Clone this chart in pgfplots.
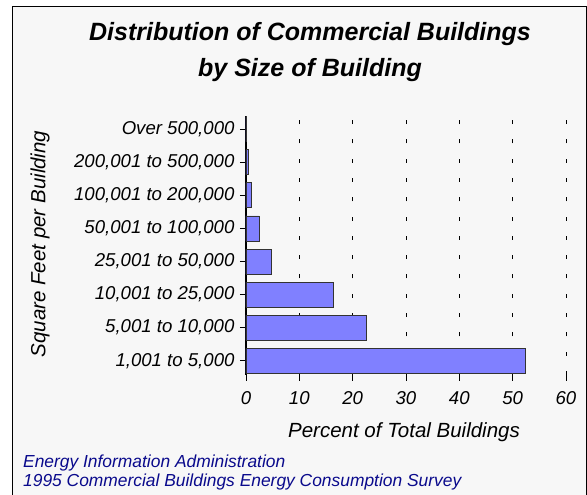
\documentclass[border=0pt]{standalone}
\usepackage{fontspec}
\setmainfont{Liberation Sans}
\usepackage{pgfplots}
\pgfplotsset{compat=1.18}

\definecolor{panel}{RGB}{247,247,247}
\definecolor{barblue}{RGB}{128,128,255}
\definecolor{navy}{RGB}{10,10,140}

\begin{document}
\begin{tikzpicture}
\useasboundingbox (0pt,0pt) rectangle (587pt,495pt);
\fill[white] (0pt,0pt) rectangle (587pt,495pt);
\fill[panel] (12.5pt,0pt) rectangle (586.5pt,488.5pt);
\draw[black, line width=1pt] (12.5pt,0pt) -- (12.5pt,488.5pt) -- (586.5pt,488.5pt) -- (586.5pt,0pt);

\begin{axis}[
  at={(246pt,120pt)}, anchor=south west,
  scale only axis, width=320pt, height=259pt,
  xbar, bar width=25pt,
  xmin=0, xmax=60, ymin=-0.43, ymax=7.40,
  xtick={0,10,...,60}, ytick={0,...,7},
  yticklabels={1{,}001 to 5{,}000, 5{,}001 to 10{,}000, 10{,}001 to 25{,}000,
    25{,}001 to 50{,}000, 50{,}001 to 100{,}000, 100{,}001 to 200{,}000,
    200{,}001 to 500{,}000, Over 500{,}000},
  axis lines*=left,
  x axis line style={draw=none},
  y axis line style={line width=1.2pt, black},
  tick align=outside, major tick length=6pt,
  tick style={black, line width=0.8pt},
  xmajorgrids,
  grid style={black, line width=0.9pt, dash pattern=on 4pt off 15.3pt},
  ticklabel style={font=\fontsize{18.6}{22}\selectfont\itshape},
  xticklabel shift=7pt, yticklabel shift=2pt,
  /pgf/number format/assume math mode=true,
]
\addplot[fill=barblue, draw=black!80, line width=0.8pt] coordinates {
(52.4,0) (22.6,1) (16.3,2) (4.7,3) (2.5,4) (1.0,5) (0.4,6) (0.1,7)
};
\end{axis}

\node[anchor=base, inner sep=0pt, font=\fontsize{25}{30}\selectfont\bfseries\itshape]
  at (310pt,454pt) {Distribution of Commercial Buildings};
\node[anchor=base, inner sep=0pt, font=\fontsize{25}{30}\selectfont\bfseries\itshape]
  at (310pt,418pt) {by Size of Building};
\node[rotate=90, inner sep=0pt, font=\fontsize{20.5}{24}\selectfont\itshape]
  at (40pt,251pt) {Square Feet per Building};
\node[anchor=base, inner sep=0pt, font=\fontsize{20.5}{24}\selectfont\itshape]
  at (404pt,57pt) {Percent of Total Buildings};
\node[anchor=base west, inner sep=0pt, text=navy, font=\fontsize{17.4}{20}\selectfont\itshape]
  at (23pt,27pt) {Energy Information Administration};
\node[anchor=base west, inner sep=0pt, text=navy, font=\fontsize{17.4}{20}\selectfont\itshape]
  at (23pt,8pt) {1995 Commercial Buildings Energy Consumption Survey};
\end{tikzpicture}
\end{document}
